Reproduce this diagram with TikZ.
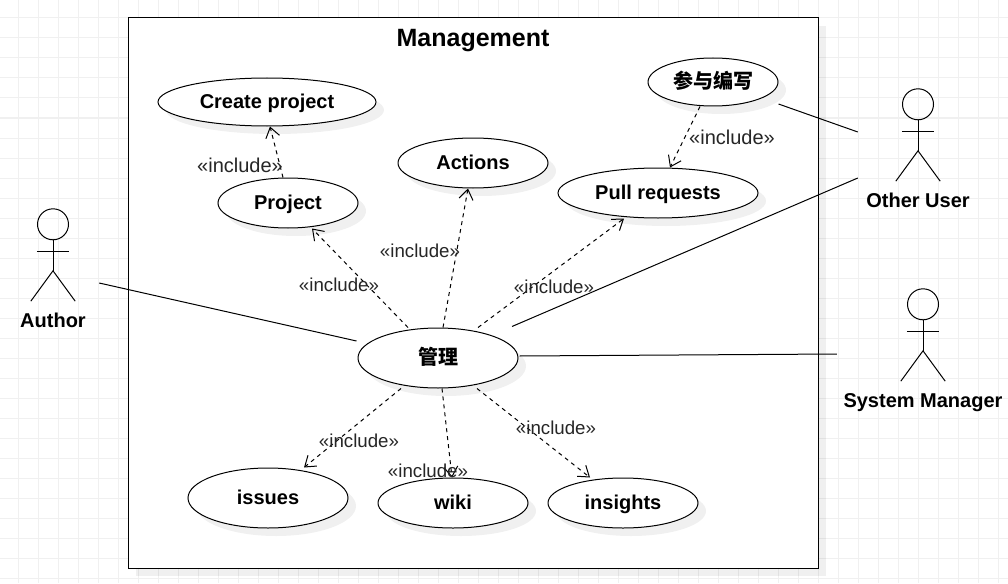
\documentclass[tikz,border=0pt]{standalone}
\usepackage{fontspec}
\setmainfont{Liberation Sans}
\newfontfamily\cjk{Noto Sans CJK SC}
\usetikzlibrary{shapes.geometric, shadows, arrows.meta}
\definecolor{gridgray}{HTML}{F0F0F0}
\tikzstyle{base-shadow} = [drop shadow={shadow xshift=8pt, shadow yshift=-8pt, fill=black, opacity=0.06}]
\tikzstyle{grid-line} = [gridgray, line width=1pt]
\tikzstyle{system-box} = [rectangle, draw=black, line width=1pt, fill=white, base-shadow, minimum width=690pt, minimum height=550pt, inner sep=0]
\tikzstyle{system-title} = [font=\fontsize{25}{30}\selectfont\bfseries, inner sep=0]
\tikzstyle{use-case} = [ellipse, draw=black, line width=1pt, fill=white, base-shadow, inner sep=0, minimum width=150pt, minimum height=50pt, text height=13pt, text depth=0pt, font=\fontsize{20}{24}\selectfont\bfseries]
\tikzstyle{actor-box} = [rectangle, inner sep=0, minimum width=44pt, minimum height=92pt]
\tikzstyle{actor-line} = [line width=1pt]
\tikzstyle{actor-label} = [anchor=base, inner sep=0, font=\fontsize{20}{24}\selectfont\bfseries]
\tikzstyle{include-label} = [inner sep=0, text=black!85, font=\fontsize{18.7}{22}\selectfont]
\tikzstyle{include-label-large} = [include-label, font=\fontsize{20}{24}\selectfont]
\tikzstyle{include} = [line width=1pt, dash pattern=on 4pt off 4pt, -{Straight Barb[length=10pt, width=14pt]}]
\tikzstyle{assoc} = [line width=1pt]
\newcommand{\UmlActor}[4]{%
    \node (#1) [actor-box] at (#2,#3) {};
    \draw[actor-line] ([yshift=-15.5pt]#1.north) circle [radius=15.5];
    \draw[actor-line] ([yshift=-31pt]#1.north) -- ([yshift=-62pt]#1.north);
    \draw[actor-line] ([xshift=6pt,yshift=-42.5pt]#1.north west) -- ([xshift=-6pt,yshift=-42.5pt]#1.north east);
    \draw[actor-line] (#1.south west) -- ([yshift=-62pt]#1.north) -- (#1.south east);
    \node (#1_label) [actor-label] at ([yshift=-26pt]#1.south) {#4};
}
\begin{document}
\begin{tikzpicture}[x=1pt, y=-1pt]
\useasboundingbox (0,0) rectangle (1008,583);

% Background grid
\foreach \gx in {18,38,...,998} {\draw[grid-line] (\gx,0) -- (\gx,583);}
\foreach \gy in {18,38,...,578} {\draw[grid-line] (0,\gy) -- (1008,\gy);}

\node (SYSTEM) [system-box] at (473,293) {};
\node (SYSTEM_TITLE) [system-title] at (473,41) {Management};

% Use cases
\node (CREATE) [use-case, minimum width=218pt, minimum height=48pt] at (267,102) {Create project};
\node (PROJECT) [use-case, minimum width=140pt] at (288,203) {Project};
\node (ACTIONS) [use-case] at (473,163) {Actions};
\node (WRITE) [use-case, minimum width=130pt, minimum height=48pt] at (713,82) {\cjk 参与编写};
\node (PULL) [use-case, minimum width=200pt] at (658,193) {Pull requests};
\node (MANAGE) [use-case, minimum width=160pt, minimum height=60pt] at (438,358) {\cjk 管理};
\node (ISSUES) [use-case, minimum width=160pt, minimum height=60pt] at (268,498) {issues};
\node (WIKI) [use-case] at (453,503) {wiki};
\node (INSIGHTS) [use-case] at (623,503) {insights};

% Actors
\UmlActor{AUTHOR}{53}{255}{Author}
\UmlActor{OTHER}{918}{135}{Other User}
\UmlActor{SYSMAN}{923}{335}{System Manager}

% Include arrows
\draw[include] ([xshift=-5pt]PROJECT.north) -- ([xshift=3pt]CREATE.south);
\draw[include] ([xshift=-30pt]MANAGE.north) -- ([xshift=24pt]PROJECT.south);
\draw[include] ([xshift=5pt]MANAGE.north) -- ([xshift=-5pt]ACTIONS.south);
\draw[include] ([xshift=40pt]MANAGE.north) -- ([xshift=-34pt]PULL.south);
\draw[include] ([xshift=-13pt]WRITE.south) -- ([xshift=12pt]PULL.north);
\draw[include] ([xshift=-37pt]MANAGE.south) -- ([xshift=36pt]ISSUES.north);
\draw[include] ([xshift=4pt]MANAGE.south) -- ([xshift=-1pt]WIKI.north);
\draw[include] ([xshift=39pt]MANAGE.south) -- ([xshift=-33pt]INSIGHTS.north);

% Include labels
\node (LABEL_CREATE) [include-label-large] at (240,165) {«include»};
\node (LABEL_PROJECT) [include-label] at (339,285) {«include»};
\node (LABEL_ACTIONS) [include-label] at (420,251) {«include»};
\node (LABEL_PULL) [include-label] at (554,287) {«include»};
\node (LABEL_WRITE) [include-label-large] at (732,137) {«include»};
\node (LABEL_ISSUES) [include-label] at (359,441) {«include»};
\node (LABEL_WIKI) [include-label] at (428,471) {«include»};
\node (LABEL_INSIGHTS) [include-label] at (556,428) {«include»};

% Actor associations
\draw[assoc] ([shift={(24,28)}]AUTHOR.east) -- ([shift={(-1,-17)}]MANAGE.west);
\draw[assoc] ([shift={(0,22)}]WRITE.east) -- ([shift={(-38,-3)}]OTHER.west);
\draw[assoc] ([xshift=74pt,yshift=1pt]MANAGE.north) -- ([shift={(-38,43)}]OTHER.west);
\draw[assoc] ([shift={(1,-2)}]MANAGE.east) -- ([shift={(-64,19)}]SYSMAN.west);

\end{tikzpicture}
\end{document}
